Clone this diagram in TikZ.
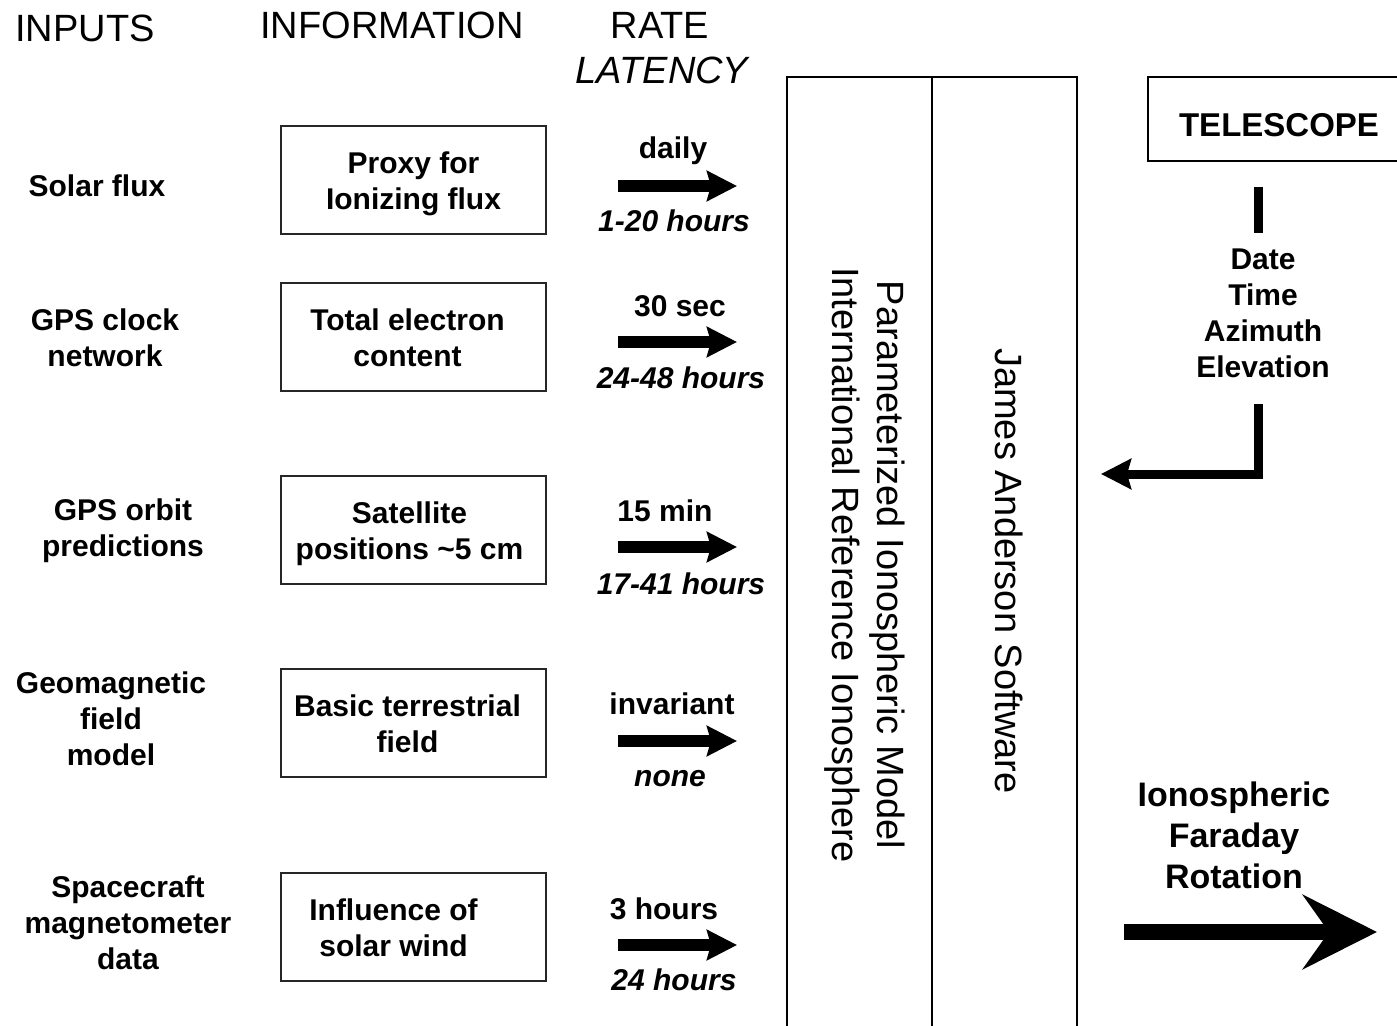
\documentclass[tikz,border=0pt]{standalone}
\usepackage{fontspec}
\setmainfont{Liberation Sans}
\usetikzlibrary{arrows.meta}
% two centred lines of box text, lowered a little and pushed left by #1
\newcommand{\boxtext}[3]{\raisebox{-2pt}[\height][\depth]{\begin{tabular}{@{}c@{}}#2\\#3\end{tabular}}\hspace*{#1}}
\begin{document}
\begin{tikzpicture}[x=0.5pt,y=-0.5pt,
  hdr/.style={font=\fontsize{19}{23}\selectfont, inner sep=0pt},
  hdrit/.style={font=\fontsize{19}{23}\selectfont\itshape, inner sep=0pt},
  lbl/.style={font=\fontsize{15}{18}\selectfont\bfseries, align=center, inner sep=0pt},
  lat/.style={font=\fontsize{15}{18}\selectfont\bfseries\itshape, inner sep=0pt},
  infobox/.style={draw=black!85, line width=0.9pt, minimum width=132.5pt,
    minimum height=54pt, inner sep=0pt, font=\fontsize{15}{18}\selectfont\bfseries, align=center},
  column/.style={draw=black, line width=1.1pt},
  vlabel/.style={font=\fontsize{19}{22.5}\selectfont, rotate=-90, align=center, inner sep=0pt},
  flow/.style={line width=6pt, -{Stealth[length=15pt,width=15pt,inset=2pt]}},
  teleline/.style={line width=4.5pt, line join=miter},
  bigflow/.style={line width=8pt, -{Stealth[length=37pt,width=37pt,inset=13pt]}}
]
\useasboundingbox (0,0) rectangle (1397,1026);

% column headers
\node[hdr] (hin) at (85,28) {INPUTS};
\node[hdr] (hinfo) at (392,25) {INFORMATION};
\node[hdr] (hrate) at (660,25) {RATE};
\node[hdrit] (hlat) at (662,70) {LATENCY};

% inputs
\node[lbl] (in1) at (97,186) {Solar flux};
\node[lbl] (in2) at (105,338) {GPS clock\\network};
\node[lbl] (in3) at (123,531) {GPS orbit\\predictions};
\node[lbl] (in4) at (111,719) {Geomagnetic\\field\\model};
\node[lbl] (in5) at (128,923) {Spacecraft\\magnetometer\\data};

% information boxes
\node[infobox] (i1) at (413.5,180) {\boxtext{0pt}{Proxy for}{Ionizing flux}};
\node[infobox] (i2) at (413.5,337) {\boxtext{6pt}{Total electron}{content}};
\node[infobox] (i3) at (413.5,530) {\boxtext{4pt}{Satellite}{positions \textasciitilde5 cm}};
\node[infobox] (i4) at (413.5,723) {\boxtext{6pt}{Basic terrestrial}{field}};
\node[infobox] (i5) at (413.5,927) {\boxtext{20pt}{Influence of}{solar wind}};

% rate and latency labels
\node[lbl] (r1) at (673,151) {daily};
\node[lat] (l1) at (674,221) {1-20 hours};
\node[lbl] (r2) at (680,306) {30 sec};
\node[lat] (l2) at (681,378) {24-48 hours};
\node[lbl] (r3) at (665,511) {15 min};
\node[lat] (l3) at (681,584) {17-41 hours};
\node[lbl] (r4) at (672,704) {invariant};
\node[lat] (l4) at (670,779) {none};
\node[lbl] (r5) at (664,909) {3 hours};
\node[lat] (l5) at (674,980) {24 hours};

% model and software columns (open at the bottom)
\draw[column] (787,1040) -- (787,77) -- (1077,77) -- (1077,1040);
\draw[column] (932,77) -- (932,1040);
\coordinate (colwest) at (737,0);
\node[vlabel] (iri) at (865,565) {Parameterized Ionospheric Model\\International Reference Ionosphere};
\node[vlabel] (jas) at (1009,571) {James Anderson Software};

% data flow arrows into the model
\coordinate (a1) at (618,186);
\coordinate (a2) at (618,342);
\coordinate (a3) at (618,547);
\coordinate (a4) at (618,741);
\coordinate (a5) at (618,945);
\foreach \k in {1,...,5} \draw[flow] (a\k) -- (a\k -| colwest);

% telescope input
\draw[column] (1430,77) -- (1148,77) -- (1148,161) -- (1430,161);
\node[font=\fontsize{16.5}{20}\selectfont\bfseries, inner sep=0pt] (tel) at (1279,125) {TELESCOPE};
\node[lbl] (pointing) at (1263,313) {Date\\Time\\Azimuth\\Elevation};
\coordinate (t1) at (1258,187);
\coordinate (t2) at (1258,233);
\coordinate (t3) at (1258,404);
\coordinate (tc) at (1258,474);
\coordinate (t4) at (1101,474);
\draw[teleline] (t1) -- (t2);
\draw[teleline, -{Stealth[length=15pt,width=15pt,inset=2pt]}] (t3) -- (tc) -- (t4);

% output
\node[font=\fontsize{17}{20.5}\selectfont\bfseries, align=center, inner sep=0pt] (out) at (1234,835) {Ionospheric\\Faraday\\Rotation};
\coordinate (o1) at (1124,932);
\coordinate (o2) at (1377,932);
\draw[bigflow] (o1) -- (o2);
\end{tikzpicture}
\end{document}
